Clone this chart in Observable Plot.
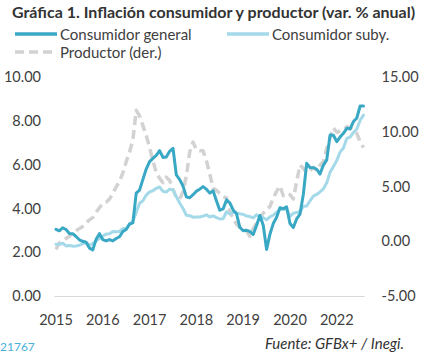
<!DOCTYPE html>
<html><head><meta charset="utf-8">
<script src="https://cdn.jsdelivr.net/npm/d3@7"></script>
<script src="https://cdn.jsdelivr.net/npm/@observablehq/plot@0.6"></script>
<style>
body{margin:0;width:436px;height:354px;overflow:hidden;background:#fff;font-family:Lato,"Open Sans",sans-serif;position:relative;color:#404040;}
.abs{position:absolute;white-space:nowrap;}
#title{left:12px;top:2px;font-weight:bold;font-size:16px;color:#333;}
.leg{font-size:15px;color:#404040;display:flex;align-items:center;}
.leg svg{margin-right:3px;}
#chart{left:0;top:60px;}
#src{left:265px;top:334px;font-style:italic;font-size:15px;color:#333;}
#id{left:0px;top:339px;font-size:12px;color:#4ab0d8;}
</style></head><body>
<div id="title" class="abs">Gráfica 1. Inflación consumidor y productor (var. % anual)</div>
<div class="abs leg" style="left:15px;top:25px"><svg width="42" height="6"><line x1="0" x2="42" y1="3" y2="3" stroke="#38a8c4" stroke-width="3.5"/></svg>Consumidor general</div>
<div class="abs leg" style="left:227px;top:25px"><svg width="42" height="6"><line x1="0" x2="42" y1="3" y2="3" stroke="#a3d9e8" stroke-width="3.5"/></svg>Consumidor suby.</div>
<div class="abs leg" style="left:15px;top:43px"><svg width="42" height="6"><line x1="0" x2="42" y1="3" y2="3" stroke="#d2d2d2" stroke-width="3.5" stroke-dasharray="9 5"/></svg>Productor (der.)</div>
<div id="chart" class="abs"></div>
<div id="src" class="abs">Fuente: GFBx+ / Inegi.</div>
<div id="id" class="abs">21767</div>
<script>
// Monthly series, Jan 2015 .. Sep 2022
const general = [
 3.07,3.00,3.14,3.06,2.88,2.87,2.74,2.59,2.52,2.48,2.21,2.13,
 2.61,2.87,2.60,2.54,2.60,2.54,2.65,2.73,2.97,3.06,3.31,3.36,
 4.72,4.86,5.35,5.82,6.16,6.31,6.44,6.66,6.35,6.37,6.63,6.77,
 5.55,5.34,5.04,4.55,4.51,4.65,4.81,4.90,5.02,4.90,4.72,4.83,
 4.37,3.94,4.00,4.41,4.28,3.95,3.78,3.16,3.00,3.02,2.97,2.83,
 3.24,3.70,3.25,2.15,2.84,3.33,3.62,4.05,4.01,4.09,3.33,3.15,
 3.54,3.76,4.67,6.08,5.89,5.88,5.81,5.59,6.00,6.24,7.37,7.36,
 7.07,7.28,7.45,7.68,7.65,7.99,8.15,8.70,8.70];
const core = [
 2.39,2.38,2.43,2.31,2.33,2.30,2.31,2.34,2.41,2.47,2.34,2.41,
 2.54,2.65,2.76,2.85,2.87,2.97,2.96,2.97,3.10,3.09,3.29,3.44,
 3.84,4.26,4.37,4.63,4.78,4.83,4.94,5.00,4.80,4.77,4.90,4.87,
 4.56,4.27,4.02,3.71,3.69,3.62,3.63,3.63,3.67,3.73,3.63,3.68,
 3.60,3.54,3.55,3.87,3.77,3.85,3.82,3.78,3.75,3.68,3.65,3.59,
 3.73,3.66,3.60,3.50,3.64,3.71,3.85,3.97,3.99,3.98,3.66,3.80,
 3.84,3.87,4.12,4.13,4.37,4.58,4.66,4.78,4.92,5.19,5.67,5.94,
 6.21,6.59,6.78,7.22,7.28,7.49,7.65,8.05,8.28];
const producer = [
 -0.7,-0.1,0.1,0.3,0.5,0.8,1.0,1.2,1.4,1.7,2.0,2.2,
 2.7,3.1,3.5,3.6,3.9,4.4,5.0,5.5,6.3,7.3,8.2,9.3,
 12.0,11.5,10.6,9.7,8.6,7.4,6.3,5.8,5.4,5.9,5.6,4.8,
 4.0,3.9,4.6,6.0,8.2,9.1,8.4,8.3,8.3,7.4,6.2,4.9,
 4.7,4.4,4.1,4.0,2.8,2.1,1.6,1.3,1.1,1.0,0.5,1.2,
 1.7,2.2,2.6,3.0,3.2,4.0,4.6,5.1,4.2,4.4,4.3,3.9,
 5.5,7.0,6.7,6.3,6.5,6.8,6.5,7.0,7.3,8.5,9.5,10.4,
 10.0,10.1,10.2,10.5,10.4,10.2,9.9,9.1,8.6];
const xTickIndex = [0,14,28,42,56,70,84];
const xTickLabels = ["2015","2016","2017","2018","2019","2020","2022"];
const leftTicks = [0,2,4,6,8,10];
const rightTicks = [-5,0,5,10,15];

// right axis (-5..15) mapped onto left axis (0..10)
const toLeft = p => (p + 5) / 2;
const rows = general.map((g, i) => ({i, g, c: core[i], p: toLeft(producer[i])}));

const chart = Plot.plot({
  width: 436, height: 280,
  marginLeft: 55.5, marginRight: 73, marginTop: 17, marginBottom: 44,
  style: {fontFamily: "Lato, 'Open Sans', sans-serif", fontSize: "14.5px", color: "#404040", background: "transparent"},
  x: {domain: [0, 92], axis: null},
  y: {domain: [0, 10], axis: null},
  marks: [
    Plot.ruleY([0], {stroke: "#d9d9d9", strokeWidth: 1.2, x1: -0.3, x2: 92.5}),
    Plot.axisY({anchor: "left", ticks: leftTicks, tickSize: 0, tickPadding: 15, tickFormat: d => d.toFixed(2), label: null, fill: "#404040"}),
    Plot.axisY({anchor: "right", ticks: rightTicks.map(toLeft), tickSize: 0, tickPadding: 18, tickFormat: d => (d * 2 - 5).toFixed(2), label: null, fill: "#404040"}),
    Plot.axisX({ticks: xTickIndex, tickSize: 0, tickPadding: 18, tickFormat: d => xTickLabels[xTickIndex.indexOf(d)], label: null, fill: "#404040"}),
    Plot.lineY(rows, {x: "i", y: "p", stroke: "#d2d2d2", strokeWidth: 3.5, strokeDasharray: "9 5", strokeLinecap: "butt"}),
    Plot.lineY(rows, {x: "i", y: "c", stroke: "#a3d9e8", strokeWidth: 3}),
    Plot.lineY(rows, {x: "i", y: "g", stroke: "#38a8c4", strokeWidth: 3})
  ]
});
document.getElementById("chart").appendChild(chart);
</script>
</body></html>
